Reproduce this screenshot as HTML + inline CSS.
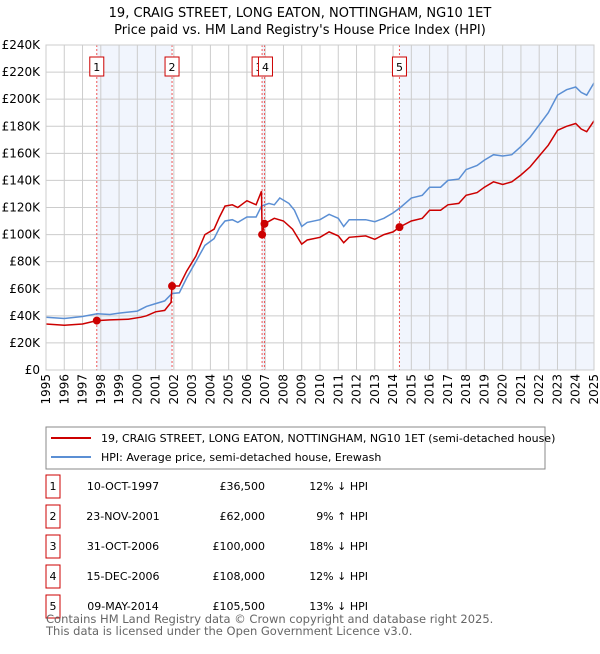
<!DOCTYPE html>
<html><head><meta charset="utf-8"><style>
body{margin:0;background:#fff;font-family:"DejaVu Sans","Liberation Sans",sans-serif;}
svg text{font-family:"DejaVu Sans","Liberation Sans",sans-serif;}
</style></head><body>
<svg width="600" height="650" xmlns="http://www.w3.org/2000/svg">
<text x="300" y="17" text-anchor="middle" font-size="13">19, CRAIG STREET, LONG EATON, NOTTINGHAM, NG10 1ET</text>
<text x="300" y="34" text-anchor="middle" font-size="13">Price paid vs. HM Land Registry's House Price Index (HPI)</text>
<g id="plot"></g>
<g>
<rect x="46" y="427" width="499" height="42" fill="#fff" stroke="#888"/>
<line x1="51" y1="438" x2="91" y2="438" stroke="#cc0000" stroke-width="2"/>
<text x="101" y="442" font-size="11">19, CRAIG STREET, LONG EATON, NOTTINGHAM, NG10 1ET (semi-detached house)</text>
<line x1="51" y1="457" x2="91" y2="457" stroke="#5b8fd4" stroke-width="2"/>
<text x="101" y="461" font-size="11">HPI: Average price, semi-detached house, Erewash</text>
</g>
<g id="table"></g>
<text x="46" y="623" font-size="11.5" fill="#666">Contains HM Land Registry data © Crown copyright and database right 2025.</text>
<text x="46" y="635" font-size="11.5" fill="#666">This data is licensed under the Open Government Licence v3.0.</text>
</svg>
<script>
const hpiYears=[1995,1996,1997,1997.8,1998.5,1999,2000,2000.5,2001,2001.5,2001.9,2002.3,2002.7,2003.2,2003.7,2004.2,2004.5,2004.8,2005.2,2005.5,2006,2006.5,2006.8,2007.2,2007.5,2007.8,2008.3,2008.6,2009,2009.3,2010,2010.5,2011,2011.3,2011.6,2012.5,2013,2013.5,2014,2014.4,2015,2015.6,2016,2016.6,2017,2017.6,2018,2018.6,2019,2019.5,2020,2020.5,2021,2021.5,2022,2022.5,2023,2023.5,2024,2024.3,2024.6,2025];
const hpiValues=[39,38,39.5,41.5,41,42,43.5,47,49,51,56.5,57,68,80,92,97,105,110,111,109,113,113,121,123,122,127,123,118,106,109,111,115,112,106,111,111,109.5,112,116,120,127,129,135,135,140,141,148,151,155,159,158,159,165,172,181,190,203,207,209,205,203,212];
const ppYears=[1995,1996,1997,1997.78,1998.5,1999.5,2000.2,2000.5,2001,2001.5,2001.85,2001.9,2002.3,2002.7,2003.2,2003.7,2004.2,2004.5,2004.8,2005.2,2005.5,2006,2006.5,2006.8,2006.83,2006.96,2007.5,2008,2008.5,2009,2009.3,2010,2010.5,2011,2011.3,2011.6,2012.5,2013,2013.5,2014,2014.35,2015,2015.6,2016,2016.6,2017,2017.6,2018,2018.6,2019,2019.5,2020,2020.5,2021,2021.5,2022,2022.5,2023,2023.5,2024,2024.3,2024.6,2025];
const ppValues=[34,33,34,36.5,37,37.5,39,40,43,44,50,62,62,73,84,100,104,113,121,122,120,125,122,132,100,108,112,110,104,93,96,98,102,99,94,98,99,96.5,100,102,105.5,110,112,118,118,122,123,129,131,135,139,137,139,144,150,158,166,177,180,182,178,176,184];
const saleLabels=["1","2","3","4","5"];
const saleYears=[1997.78,2001.9,2006.83,2006.96,2014.35];
const saleValues=[36.5,62,100,108,105.5];
const saleDates=["10-OCT-1997","23-NOV-2001","31-OCT-2006","15-DEC-2006","09-MAY-2014"];
const salePrices=["£36,500","£62,000","£100,000","£108,000","£105,500"];
const saleHpi=["12% ↓ HPI","9% ↑ HPI","18% ↓ HPI","12% ↓ HPI","13% ↓ HPI"];
const yTicks=[0,20,40,60,80,100,120,140,160,180,200,220,240];
const xTicks=[];for(let y=1995;y<=2025;y++)xTicks.push(y);

const L=46,R=594,T=45,B=370;
const X=v=>L+(v-1995)/30*(R-L);
const Y=v=>B-v/240*(B-T);
const NS="http://www.w3.org/2000/svg";
const g=document.getElementById('plot');
function mk(tag,attrs,parent){const e=document.createElementNS(NS,tag);for(const k in attrs)e.setAttribute(k,attrs[k]);(parent||g).appendChild(e);return e;}
let e=mk('rect',{x:L,y:T,width:R-L,height:B-T,fill:'#fff'});


[[0,1],[2,3],[4,5]].forEach(([a,b])=>{const x2=b<5?X(saleYears[b]):R;const s=mk('rect',{x:X(saleYears[a]),y:T,width:x2-X(saleYears[a]),height:B-T,fill:'#f1f5fd'});

});
xTicks.forEach(t=>{const l=mk('line',{x1:X(t),x2:X(t),y1:T,y2:B,stroke:'#ccc'});


const tx=mk('text',{x:0,y:0,'font-size':'12','text-anchor':'end',transform:`translate(${X(t)+4},${B+4}) rotate(-90)`});tx.textContent=t;

});
yTicks.forEach(t=>{const l=mk('line',{x1:L,x2:R,y1:Y(t),y2:Y(t),stroke:'#ccc'});


const tx=mk('text',{x:40,y:Y(t)+4,'font-size':'12','text-anchor':'end'});tx.textContent='£'+(t?t+'K':'0');

});
saleYears.forEach((sy,i)=>{const l=mk('line',{x1:X(sy),x2:X(sy),y1:T,y2:B,stroke:'#e55','stroke-dasharray':'2,2'});

});
saleYears.forEach((sy,i)=>{
const r=mk('rect',{x:X(sy)-7-(i==2?3:0)+(i==3?1:0),y:57,width:14,height:19,fill:'#fff',stroke:'#cc0000'});


const t=mk('text',{x:X(sy)-(i==2?3:0)+(i==3?1:0),y:71,'font-size':'11','text-anchor':'middle'});t.textContent=saleLabels[i];

});
const pts=(xs,vs)=>xs.map((x,i)=>X(x).toFixed(1)+','+Y(vs[i]).toFixed(1)).join(' ');
e=mk('polyline',{points:pts(hpiYears,hpiValues),fill:'none',stroke:'#5b8fd4','stroke-width':1.5});


e=mk('polyline',{points:pts(ppYears,ppValues),fill:'none',stroke:'#cc0000','stroke-width':1.5});


saleYears.forEach((sy,i)=>{const c=mk('circle',{cx:X(sy),cy:Y(saleValues[i]),r:4,fill:'#cc0000'});

});
e=mk('rect',{x:L,y:T,width:R-L,height:B-T,fill:'none',stroke:'#ccc'});


const tb=document.getElementById('table');
saleLabels.forEach((lab,i)=>{const y=484+i*30;
const r=mk('rect',{x:46,y:y-9,width:14,height:23,fill:'#fff',stroke:'#cc0000'},tb);


const cells=[[53,'middle',lab],[123,'middle',saleDates[i]],[265,'end',salePrices[i]],[368,'end',saleHpi[i]]];
cells.forEach(([x,a,s])=>{const t=mk('text',{x:x,y:y+6,'font-size':'11','text-anchor':a},tb);t.textContent=s;

});});
</script>
</body></html>
